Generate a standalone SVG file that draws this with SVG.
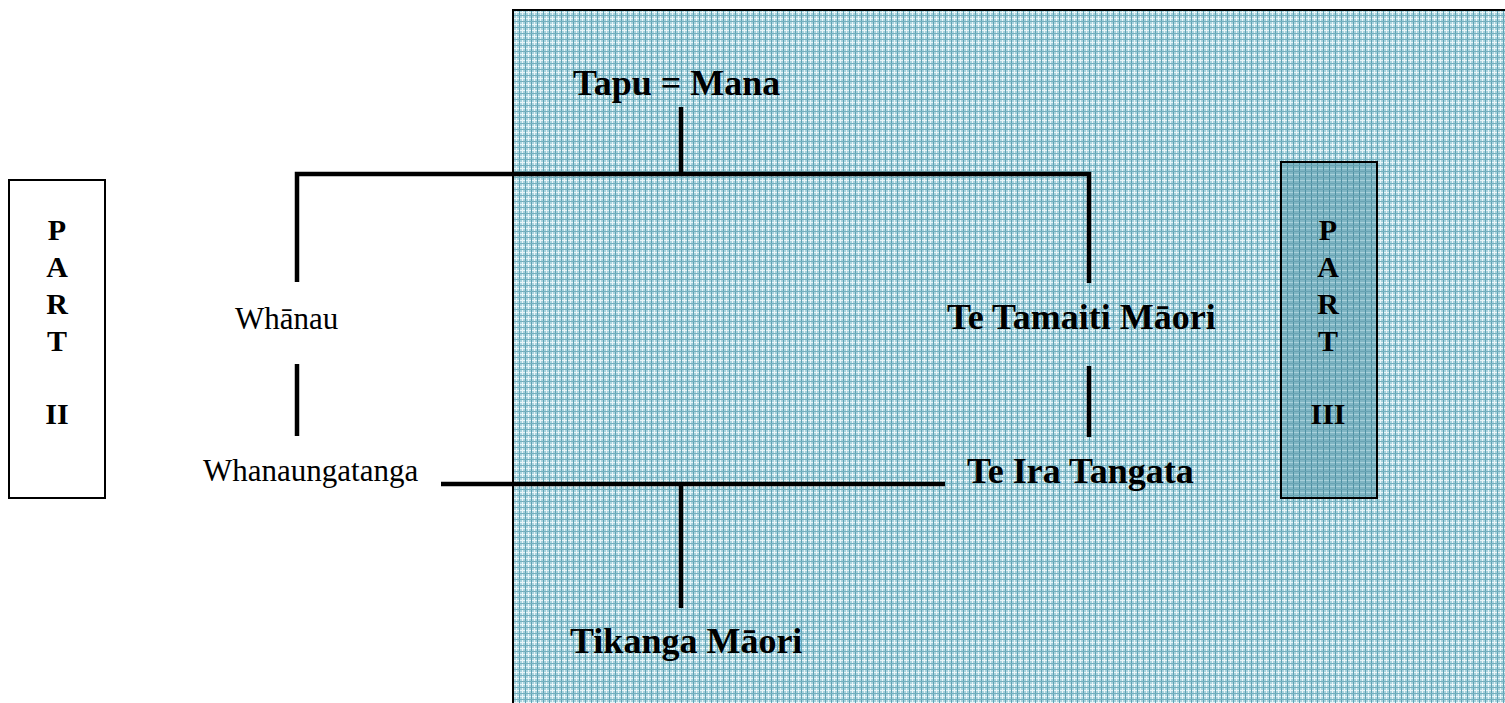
<svg xmlns="http://www.w3.org/2000/svg" width="1505" height="703" viewBox="0 0 1505 703">
<defs>
<pattern id="grid" width="6" height="6" patternUnits="userSpaceOnUse">
<rect width="6" height="6" fill="#a9d3de"/>
<rect x="0" y="0" width="6" height="1" fill="#e9f5f8"/>
<rect x="0" y="0" width="1" height="6" fill="#e9f5f8"/>
<rect x="3" y="0" width="1" height="6" fill="#5fa2b4"/>
<rect x="0" y="3" width="6" height="1" fill="#74b0bf"/>
</pattern>
<pattern id="grid2" width="6" height="6" patternUnits="userSpaceOnUse">
<rect width="6" height="6" fill="#80b6c4"/>
<rect x="0" y="0" width="6" height="1" fill="#a7d0da"/>
<rect x="3" y="0" width="1" height="6" fill="#4f91a3"/>
<rect x="0" y="3" width="6" height="1" fill="#68a3b3"/>
</pattern>
</defs>
<style>
.b{font-family:"Liberation Serif","Times New Roman",serif;font-weight:bold;fill:#000}
.r{font-family:"Liberation Serif","Times New Roman",serif;fill:#000}
.ln{stroke:#000;stroke-width:4.5;fill:none;stroke-linecap:butt}
</style>
<rect width="1505" height="703" fill="#fff"/>
<g id="bgbox"><rect x="513" y="10" width="1000" height="700" fill="url(#grid)" stroke="#000" stroke-width="2"/></g>
<g id="part2">
<rect x="9" y="180" width="96" height="318" fill="#fff" stroke="#000" stroke-width="2"/>
<text class="b" font-size="30" text-anchor="middle"><tspan x="57" y="240">P</tspan><tspan x="57" y="277">A</tspan><tspan x="57" y="314">R</tspan><tspan x="57" y="351">T</tspan><tspan x="57" y="424">II</tspan></text>
</g>
<g id="part3">
<rect x="1281" y="162" width="96" height="336" fill="url(#grid2)" stroke="#000" stroke-width="2"/>
<text class="b" font-size="30" text-anchor="middle"><tspan x="1328" y="240">P</tspan><tspan x="1328" y="277">A</tspan><tspan x="1328" y="314">R</tspan><tspan x="1328" y="351">T</tspan><tspan x="1328" y="424">III</tspan></text>
</g>
<g id="connectors">
<path class="ln" d="M681 107 V174"/>
<path class="ln" d="M297 282 V174 H1089 V283"/>
<path class="ln" d="M297 364 V436"/>
<path class="ln" d="M1089 366 V437"/>
<path class="ln" d="M441 484 H945"/>
<path class="ln" d="M681 484 V608"/>
</g>
<g id="tapu"><text class="b" x="573" y="95" font-size="36">Tapu = Mana</text></g>
<g id="whanau"><text class="r" x="235" y="329" font-size="31">Whānau</text></g>
<g id="whanaungatanga"><text class="r" x="203" y="481" font-size="31">Whanaungatanga</text></g>
<g id="tamaiti"><text class="b" x="947" y="329" font-size="36">Te Tamaiti Māori</text></g>
<g id="ira"><text class="b" x="967" y="483" font-size="36">Te Ira Tangata</text></g>
<g id="tikanga"><text class="b" x="570" y="653" font-size="36">Tikanga Māori</text></g>
</svg>
